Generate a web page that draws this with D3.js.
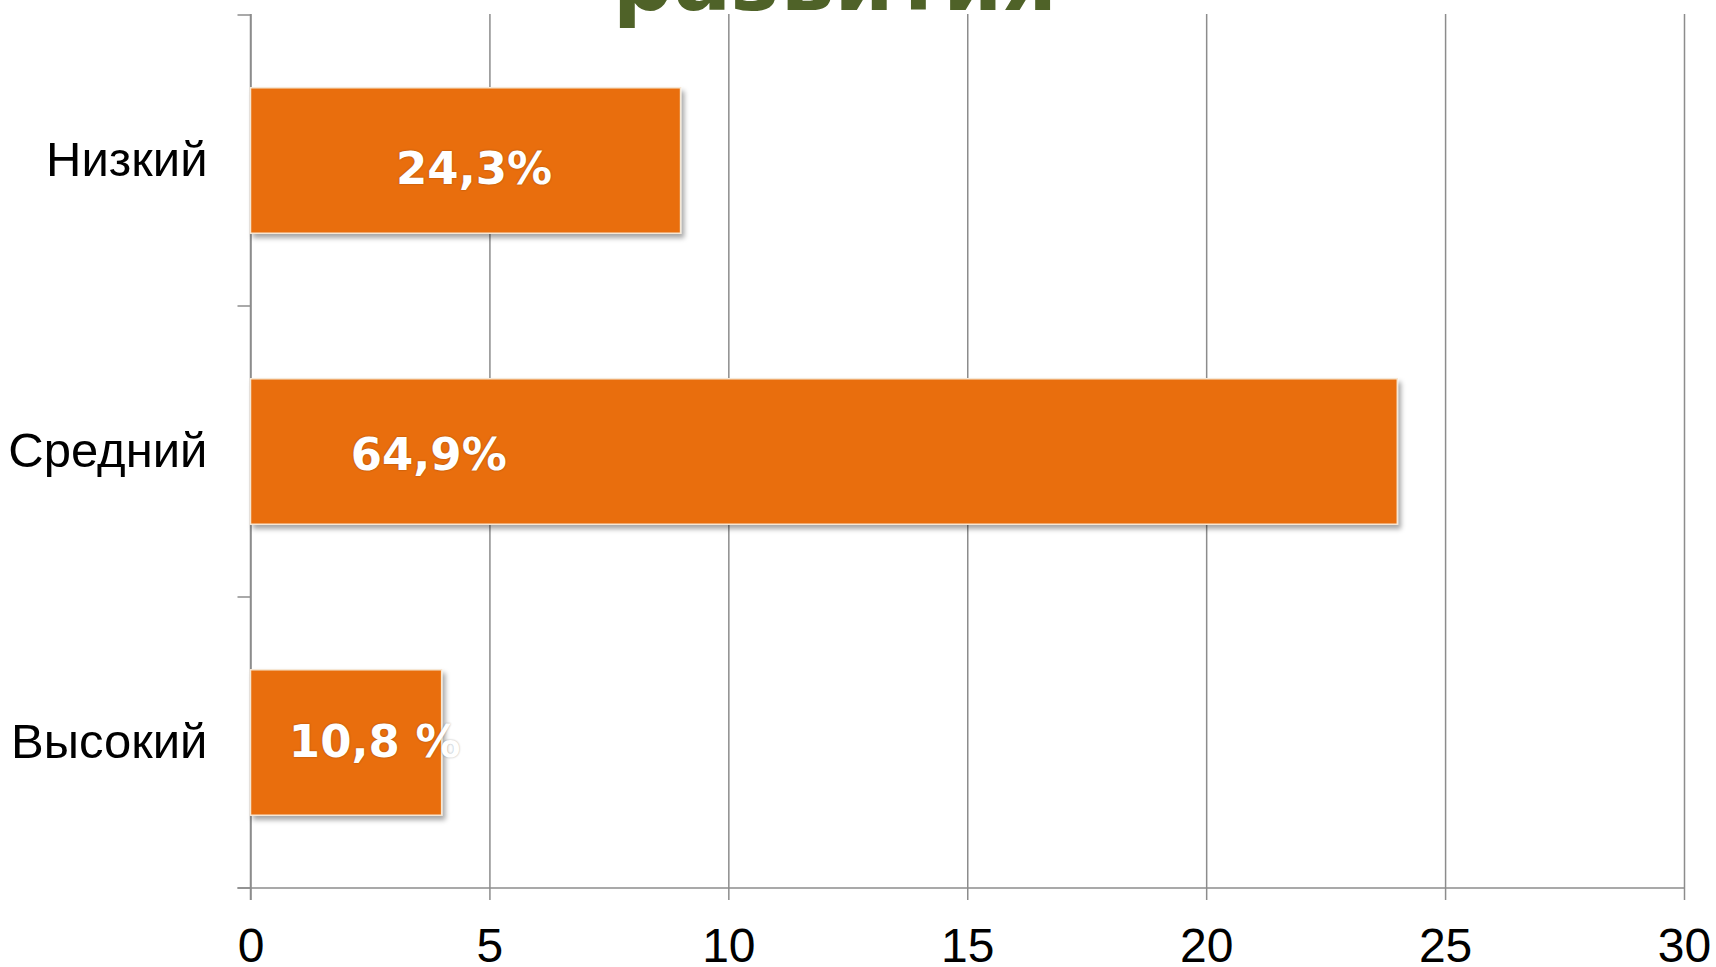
<!DOCTYPE html>
<html>
<head>
<meta charset="utf-8">
<script src="https://cdn.jsdelivr.net/npm/d3@7"></script>
<style>
	body { margin: 0; background: #fff; }
	.cat text { font-family: "Liberation Sans", Arial, sans-serif; font-size: 49px; fill: #000; }
	.xaxis text { font-family: "Liberation Sans", Arial, sans-serif; font-size: 48px; fill: #000; }
	.lbl { font-family: "DejaVu Sans", Verdana, sans-serif; font-weight: bold; font-size: 45px; fill: #fff;
		text-shadow: 0 0 2px rgba(0,0,0,0.35); }
</style>
</head>
<body>
<div id="chart"></div>
<script>
// data
var categories = ['Низкий', 'Средний', 'Высокий'];
var values = [9, 24, 4];
var percentLabels = ['24,3%', '64,9%', '10,8 %'];
var xTicks = [0, 5, 10, 15, 20, 25, 30];
var titleText = 'развития';

var svgWidth = 1716;
var svgHeight = 967;
var plot = {left: 250.5, right: 1684, top: 14, bottom: 888};

var svg = d3.select('#chart').append('svg')
	.attr('width', svgWidth).attr('height', svgHeight);

var defs = svg.append('defs');
var shadow = defs.append('filter').attr('id', 'shadow')
	.attr('x', '-5%').attr('y', '-5%').attr('width', '115%').attr('height', '120%');
shadow.append('feDropShadow')
	.attr('dx', 3).attr('dy', 4).attr('stdDeviation', 2.5)
	.attr('flood-color', '#000').attr('flood-opacity', 0.35);

var x = d3.scaleLinear().domain([0, 30]).range([plot.left, plot.right]);
var y = d3.scaleBand().domain(categories).range([plot.top + 1, plot.bottom])
	.paddingInner(0.5).paddingOuter(0.25);

var data = categories.map(function(c, i) {
	return {cat: c, value: values[i], label: percentLabels[i]};
});

// vertical gridlines
var grid = svg.append('g')
	.attr('transform', 'translate(0,' + plot.bottom + ')')
	.call(d3.axisBottom(x).tickValues(xTicks).tickSize(-(plot.bottom - plot.top)).tickFormat(''));
grid.select('.domain').remove();
grid.selectAll('line').attr('stroke', '#8c8c8c').attr('stroke-width', 1.5);

// bottom ticks + numbers
var xAxis = svg.append('g').attr('class', 'xaxis')
	.attr('transform', 'translate(0,' + plot.bottom + ')')
	.call(d3.axisBottom(x).tickValues(xTicks).tickSize(12).tickPadding(28).tickSizeOuter(0));
xAxis.select('.domain').remove();
xAxis.selectAll('line').attr('stroke', '#8c8c8c').attr('stroke-width', 1.5);

// axis lines
svg.append('line')
	.attr('x1', plot.left - 13).attr('x2', plot.right)
	.attr('y1', plot.bottom).attr('y2', plot.bottom)
	.attr('stroke', '#8c8c8c').attr('stroke-width', 1.5);
svg.append('line')
	.attr('x1', plot.left).attr('x2', plot.left)
	.attr('y1', plot.top).attr('y2', plot.bottom + 12)
	.attr('stroke', '#8c8c8c').attr('stroke-width', 1.5);

// category boundary ticks on the y axis
var bounds = categories.map(function(c) { return y(c) - y.step() * 0.25; });
bounds.push(plot.bottom);
svg.selectAll('.ytick').data(bounds)
	.enter().append('line')
	.attr('class', 'ytick')
	.attr('x1', plot.left - 13).attr('x2', plot.left)
	.attr('y1', function(d) { return d; }).attr('y2', function(d) { return d; })
	.attr('stroke', '#8c8c8c').attr('stroke-width', 1.5);

// bars
svg.selectAll('.bar').data(data)
	.enter().append('rect')
	.attr('class', 'bar')
	.attr('x', x(0))
	.attr('y', function(d) { return y(d.cat); })
	.attr('width', function(d) { return x(d.value) - x(0); })
	.attr('height', y.bandwidth())
	.attr('fill', '#e96e0b')
	.attr('stroke', '#f6e7d4').attr('stroke-width', 1.5)
	.attr('filter', 'url(#shadow)');

// category labels
var yAxis = svg.append('g').attr('class', 'cat')
	.attr('transform', 'translate(' + plot.left + ',0)')
	.call(d3.axisLeft(y).tickSize(0).tickPadding(43));
yAxis.select('.domain').remove();

// percent labels (placed by hand in the original, so centred at these values)
var labelAt = [4.68, 3.73, 2.6];
var labelDy = [7, 2, -2];
svg.selectAll('.lbl').data(data)
	.enter().append('text')
	.attr('class', 'lbl')
	.attr('text-anchor', 'middle')
	.attr('x', function(d, i) { return x(labelAt[i]); })
	.attr('y', function(d, i) { return y(d.cat) + y.bandwidth() / 2 + labelDy[i]; })
	.attr('dy', '0.36em')
	.text(function(d) { return d.label; });

// title, cut off at the top
svg.append('text')
	.attr('x', 835).attr('y', 10)
	.attr('text-anchor', 'middle')
	.style('font-family', '"DejaVu Sans", Verdana, sans-serif')
	.style('font-weight', 'bold')
	.style('font-size', '85px')
	.style('fill', '#4f6228')
	.text(titleText);
</script>
</body>
</html>
